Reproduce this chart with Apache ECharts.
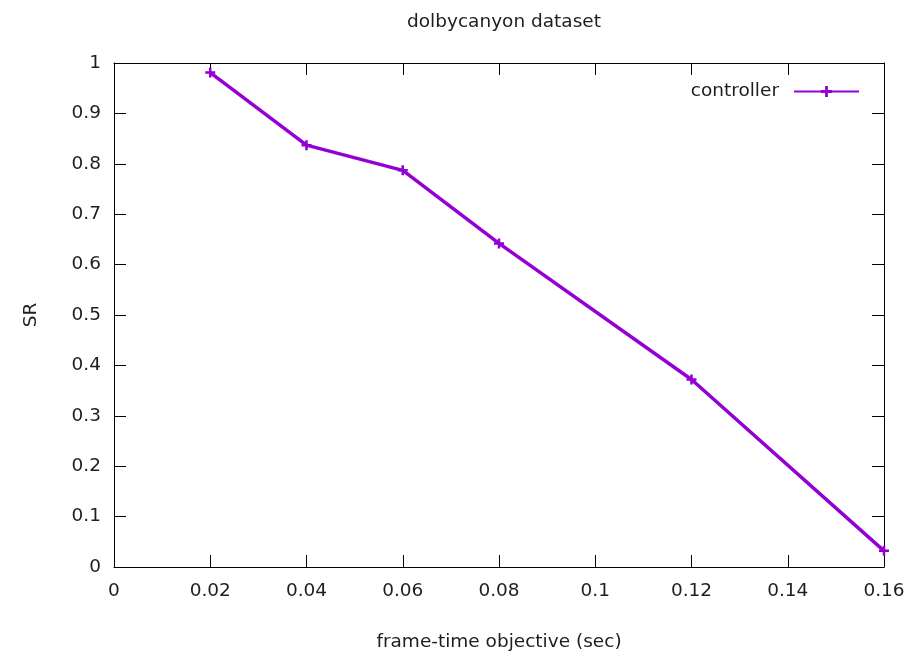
<!DOCTYPE html>
<html><head><meta charset="utf-8">
<script src="https://cdn.jsdelivr.net/npm/echarts@6/dist/echarts.min.js"></script>
<style>html,body{margin:0;padding:0;background:#fff}#c{width:914px;height:662px}</style>
</head><body><div id="c"></div>
<script>
const xValues = [0.02, 0.04, 0.06, 0.08, 0.12, 0.16];
const srValues = [0.981, 0.837, 0.787, 0.642, 0.372, 0.032];
const seriesName = 'controller';
const titleText = 'dolbycanyon dataset';
const xName = 'frame-time objective (sec)';
const yName = 'SR';

const font = 'DejaVu Sans, sans-serif';
const fs = 18.5;
const txt = '#1e1e1e';
const chart = echarts.init(document.getElementById('c'), null, {renderer: 'canvas'});
const axisLine = {show: true, onZero: false, lineStyle: {color: '#000', width: 1}};
const tick = {show: true, inside: true, length: 12, lineStyle: {color: '#000', width: 1}};
const label = {color: txt, fontFamily: font, fontSize: fs};
chart.setOption({
  animation: false,
  title: {text: titleText, left: 499, textAlign: 'center', top: 8,
    textStyle: {fontFamily: font, fontSize: fs, fontWeight: 'normal', color: txt}},
  grid: {left: 114, right: 30, top: 63, bottom: 95},
  legend: {right: 54, top: 82, padding: 0, align: 'right', itemWidth: 65, itemHeight: 14,
    textStyle: {fontFamily: font, fontSize: fs, color: txt, padding: [0, 10, 0, 0]}, data: [seriesName]},
  xAxis: [
    {type: 'value', min: 0, max: 0.16, interval: 0.02, position: 'bottom',
     axisLine: axisLine, axisTick: tick, splitLine: {show: false},
     axisLabel: Object.assign({margin: 15, formatter: v => String(+v.toFixed(2))}, label),
     name: xName, nameLocation: 'middle', nameGap: 66,
     nameTextStyle: {fontFamily: font, fontSize: fs, color: txt}},
    {type: 'value', min: 0, max: 0.16, interval: 0.02, position: 'top',
     axisLine: axisLine, axisTick: tick, splitLine: {show: false}, axisLabel: {show: false}}
  ],
  yAxis: [
    {type: 'value', min: 0, max: 1, interval: 0.1, position: 'left',
     axisLine: axisLine, axisTick: tick, splitLine: {show: false},
     axisLabel: Object.assign({margin: 13, formatter: v => String(+v.toFixed(1))}, label),
     name: yName, nameLocation: 'middle', nameGap: 73, nameRotate: 90,
     nameTextStyle: {fontFamily: font, fontSize: fs, color: txt}},
    {type: 'value', min: 0, max: 1, interval: 0.1, position: 'right',
     axisLine: axisLine, axisTick: tick, splitLine: {show: false}, axisLabel: {show: false}}
  ],
  series: [{
    name: seriesName, type: 'line',
    data: xValues.map((x, i) => [x, srValues[i]]),
    lineStyle: {color: '#9400D3', width: 3.5},
    itemStyle: {color: '#9400D3'},
    symbol: 'path://M3,0H5V3H8V5H5V8H3V5H0V3H3Z', symbolSize: 10, showSymbol: true,
    clip: false
  }]
});
</script></body></html>
